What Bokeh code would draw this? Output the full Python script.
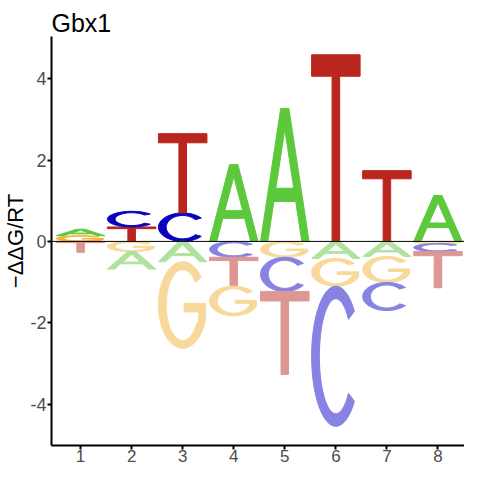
import numpy as np
from bokeh.plotting import figure
from bokeh.models import ColumnDataSource, Span
from bokeh.embed import file_html
from bokeh.resources import INLINE

# ---- data ----
positions = [1, 2, 3, 4, 5, 6, 7, 8]
ddg_A = [0.16, -0.43, -0.50, 1.89, 3.27, -0.42, -0.37, 1.13]
ddg_C = [0.00, 0.385, 0.70, -0.39, -0.84, -3.45, -0.69, -0.20]
ddg_G = [0.14, -0.25, -2.13, -0.73, -0.39, -0.68, -0.64, -0.05]
ddg_T = [-0.27, 0.355, 1.95, -0.71, -2.04, 4.59, 1.74, -0.89]
y_ticks = [-4, -2, 0, 2, 4]
title_text = "Gbx1"
y_label = "\u2212\u0394\u0394G/RT"

pos_colors = {"A": "#5DC83C", "C": "#0A00C0", "G": "#F4B33A", "T": "#BA261E"}
neg_colors = {"A": "#B0E29E", "C": "#8882E2", "G": "#F9D99B", "T": "#DE9792"}

# ---- letter outlines in a unit box ----
def arc(rx, ry, a0, a1, n=48):
    t = np.radians(np.linspace(a0, a1, n))
    return list(zip(0.5 + rx * np.cos(t), 0.5 + ry * np.sin(t)))

def letter_rings(ch):
    if ch == "T":
        return [[(0, 1), (1, 1), (1, 0.885), (0.578, 0.885), (0.578, 0),
                 (0.422, 0), (0.422, 0.885), (0, 0.885)]]
    if ch == "A":
        lw, ap = 0.15, 0.415
        b0, b1 = 0.30, 0.40
        outer = [(0, 0), (lw, 0), (lw + ap * b0, b0), (1 - lw - ap * b0, b0),
                 (1 - lw, 0), (1, 0), (1 - ap, 1), (ap, 1)]
        top = (0.5 - lw) / ap
        hole = [(lw + ap * b1, b1), (1 - lw - ap * b1, b1), (0.5, top)]
        return [outer, hole]
    if ch == "C":
        outer = arc(0.5, 0.5, 40, 320)
        inner = arc(0.34, 0.41, 320, 40)
        return [outer + inner]
    if ch == "G":
        outer = arc(0.5, 0.5, 40, 330)
        mid = [(0.97, 0.33), (0.97, 0.52), (0.53, 0.52), (0.53, 0.42),
               (0.83, 0.42), (0.83, 0.31)]
        inner = arc(0.34, 0.41, 330, 40)
        return [outer + mid + inner]
    return []

W = 0.95
xs, ys, cols = [], [], []
for i, x in enumerate(positions):
    vals = {"A": ddg_A[i], "C": ddg_C[i], "G": ddg_G[i], "T": ddg_T[i]}
    ups = sorted([(v, l) for l, v in vals.items() if v > 0])
    downs = sorted([(-v, l) for l, v in vals.items() if v < 0])
    base = 0.0
    for h, l in ups:
        rings = letter_rings(l)
        xs.append([[[x - W / 2 + u * W for u, _ in r] for r in rings]])
        ys.append([[[base + vv * h for _, vv in r] for r in rings]])
        cols.append(pos_colors[l])
        base += h
    base = 0.0
    for h, l in downs:
        base -= h
        rings = letter_rings(l)
        xs.append([[[x - W / 2 + u * W for u, _ in r] for r in rings]])
        ys.append([[[base + vv * h for _, vv in r] for r in rings]])
        cols.append(neg_colors[l])

src = ColumnDataSource(dict(xs=xs, ys=ys, color=cols))

p = figure(width=464, height=464, x_range=(0.43, 8.52), y_range=(-5.02, 5.04),
           output_backend="svg", toolbar_location=None, title=title_text,
           min_border=0, min_border_left=42, min_border_right=0,
           min_border_top=36, min_border_bottom=0)

p.multi_polygons(xs="xs", ys="ys", fill_color="color", line_color="color",
                 line_width=1, source=src)

p.add_layout(Span(location=0, dimension="width", line_color="black", line_width=1))

p.title.text_font = "Liberation Sans"
p.title.text_font_size = "25px"
p.title.text_font_style = "normal"
p.title.text_color = "black"
p.title.align = "left"
p.title.standoff = 0

p.xgrid.visible = False
p.ygrid.visible = False
p.outline_line_color = None

p.xaxis.ticker = positions
p.yaxis.ticker = y_ticks
p.yaxis.major_label_overrides = {t: str(t) for t in y_ticks}
for ax in (p.xaxis[0], p.yaxis[0]):
    ax.axis_line_width = 2
    ax.axis_line_color = "black"
    ax.major_tick_line_width = 2
    ax.major_tick_line_color = "black"
    ax.major_tick_in = 0
    ax.major_tick_out = 4
    ax.minor_tick_line_color = None
    ax.major_label_text_font = "Liberation Sans"
    ax.major_label_text_font_size = "18px"
    ax.major_label_text_color = "#4D4D4D"
    ax.major_label_standoff = 1
p.xaxis.major_label_standoff = 0
p.xaxis.major_label_text_font_size = "17px"

p.yaxis.axis_label = y_label
p.yaxis.axis_label_text_font = "Liberation Sans"
p.yaxis.axis_label_text_font_size = "22px"
p.yaxis.axis_label_text_font_style = "normal"
p.yaxis.axis_label_text_color = "black"
p.yaxis.axis_label_standoff = -1

open("out.html", "w").write(file_html(p, INLINE))
